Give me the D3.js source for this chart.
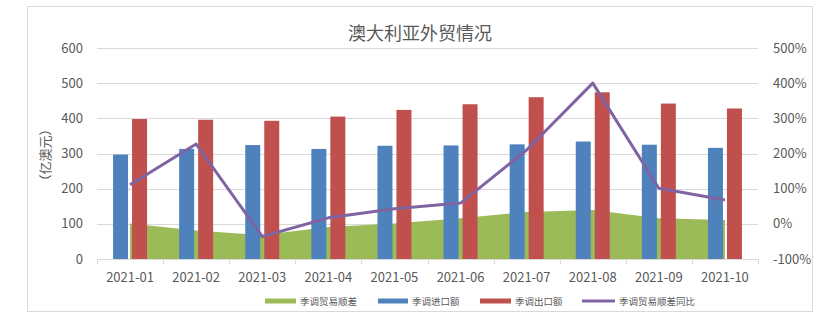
<!DOCTYPE html>
<html>
<head>
<meta charset="utf-8" />
<style>
    body { margin: 0; background: #fff; }
    text { font-family: "Noto Sans CJK SC", "Noto Sans", sans-serif; fill: #595959; }
    .grid line { stroke: #d9d9d9; stroke-width: 1; shape-rendering: crispEdges; }
    .axis path, .axis line { stroke: #d9d9d9; shape-rendering: crispEdges; }
</style>
</head>
<body>
<svg width="829" height="329"></svg>
<script src="https://d3js.org/d3.v7.min.js"></script>
<script>
    var months = ["2021-01", "2021-02", "2021-03", "2021-04", "2021-05", "2021-06", "2021-07", "2021-08", "2021-09", "2021-10"];
    var imports = [297, 313, 324, 313, 322, 323, 326, 334, 325, 316];
    var exports = [398, 396, 393, 405, 424, 440, 460, 474, 442, 428];
    var surplus = [101, 81, 68, 91, 101, 116, 134, 139, 116, 111];
    var surplusYoY = [111, 227, -36, 17, 43, 59, 210, 400, 101, 68];
    var leftTicks = [0, 100, 200, 300, 400, 500, 600];
    var rightTicks = [-100, 0, 100, 200, 300, 400, 500];
    var legendNames = ["季调贸易顺差", "季调进口额", "季调出口额", "季调贸易顺差同比"];

    var colors = { surplus: "#9bbb59", imports: "#4f81bd", exports: "#c0504d", yoy: "#8064a2" };

    var svg = d3.select("svg");
    var margin = { top: 48, left: 97, right: 71, bottom: 70 };
    var width = 829 - margin.left - margin.right;
    var height = 329 - margin.top - margin.bottom;

    // chart border
    svg.append("rect")
        .attr("x", 27.5).attr("y", 6.5)
        .attr("width", 785).attr("height", 305)
        .attr("fill", "#fff").attr("stroke", "#d9d9d9");

    var g = svg.append("g").attr("transform", "translate(" + margin.left + "," + margin.top + ")");

    var x = d3.scaleBand().domain(months).range([0, width]);
    var y = d3.scaleLinear().domain([0, 600]).range([height, 0]);
    var y2 = d3.scaleLinear().domain([-100, 500]).range([height, 0]);

    // gridlines
    g.append("g").attr("class", "grid")
        .selectAll("line").data(leftTicks.slice(1)).enter().append("line")
        .attr("x1", 0).attr("x2", width)
        .attr("y1", d => Math.round(y(d)) + 0.5).attr("y2", d => Math.round(y(d)) + 0.5);

    var data = months.map((m, i) => ({ m: m, imp: imports[i], exp: exports[i], sur: surplus[i], yoy: surplusYoY[i] }));

    // surplus area
    var area = d3.area()
        .x(d => x(d.m) + x.bandwidth() / 2)
        .y0(y(0))
        .y1(d => y(d.sur));
    g.append("path").datum(data)
        .attr("d", area)
        .attr("fill", colors.surplus);

    // bars
    var barW = 15, gap = 2;
    g.selectAll(".imp").data(data).enter().append("rect")
        .attr("x", d => x(d.m) + x.bandwidth() / 2 - gap - barW)
        .attr("y", d => y(d.imp))
        .attr("width", barW)
        .attr("height", d => y(0) - y(d.imp))
        .attr("fill", colors.imports);
    g.selectAll(".exp").data(data).enter().append("rect")
        .attr("x", d => x(d.m) + x.bandwidth() / 2 + gap)
        .attr("y", d => y(d.exp))
        .attr("width", barW)
        .attr("height", d => y(0) - y(d.exp))
        .attr("fill", colors.exports);

    // yoy line
    var line = d3.line()
        .x(d => x(d.m) + x.bandwidth() / 2)
        .y(d => y2(d.yoy));
    g.append("path").datum(data)
        .attr("d", line)
        .attr("fill", "none")
        .attr("stroke", colors.yoy)
        .attr("stroke-width", 3)
        .attr("stroke-linejoin", "round");

    // x axis with ticks between categories
    g.append("line")
        .attr("x1", 0).attr("x2", width)
        .attr("y1", height + 0.5).attr("y2", height + 0.5)
        .attr("stroke", "#d9d9d9");
    g.selectAll(".xtick").data(d3.range(months.length + 1)).enter().append("line")
        .attr("x1", i => Math.round(i * x.step()) + 0.5)
        .attr("x2", i => Math.round(i * x.step()) + 0.5)
        .attr("y1", height).attr("y2", height + 5)
        .attr("stroke", "#d9d9d9");
    g.selectAll(".xlab").data(months).enter().append("text")
        .attr("x", d => x(d) + x.bandwidth() / 2)
        .attr("y", height + 23)
        .attr("text-anchor", "middle")
        .style("font-size", "13px")
        .text(d => d);

    // left axis labels
    g.selectAll(".ylab").data(leftTicks).enter().append("text")
        .attr("x", -14)
        .attr("y", d => y(d) + 4.5)
        .attr("text-anchor", "end")
        .style("font-size", "13px")
        .text(d => d);

    // right axis labels
    g.selectAll(".y2lab").data(rightTicks).enter().append("text")
        .attr("x", width + 15)
        .attr("y", d => y2(d) + 4.5)
        .attr("text-anchor", "start")
        .style("font-size", "13px")
        .text(d => d + "%");

    // y axis title
    svg.append("text")
        .attr("transform", "translate(50,155) rotate(-90)")
        .attr("text-anchor", "middle")
        .style("font-size", "13px")
        .text("（亿澳元）");

    // title
    svg.append("text")
        .attr("x", 420).attr("y", 40)
        .attr("text-anchor", "middle")
        .style("font-size", "18px")
        .text("澳大利亚外贸情况");

    // legend
    var legendX = [265, 378, 480, 582];
    var legendW = [31, 30, 31, 33];
    var legendCol = [colors.surplus, colors.imports, colors.exports, colors.yoy];
    var lg = svg.selectAll(".legend").data(legendNames).enter().append("g");
    lg.append("rect")
        .attr("x", (d, i) => legendX[i])
        .attr("y", (d, i) => i === 3 ? 299.5 : 298.5)
        .attr("width", (d, i) => legendW[i])
        .attr("height", (d, i) => i === 3 ? 3 : 5)
        .attr("fill", (d, i) => legendCol[i]);
    lg.append("text")
        .attr("x", (d, i) => legendX[i] + legendW[i] + 4)
        .attr("y", 305)
        .style("font-size", "9.5px")
        .text(d => d);
</script>
</body>
</html>
